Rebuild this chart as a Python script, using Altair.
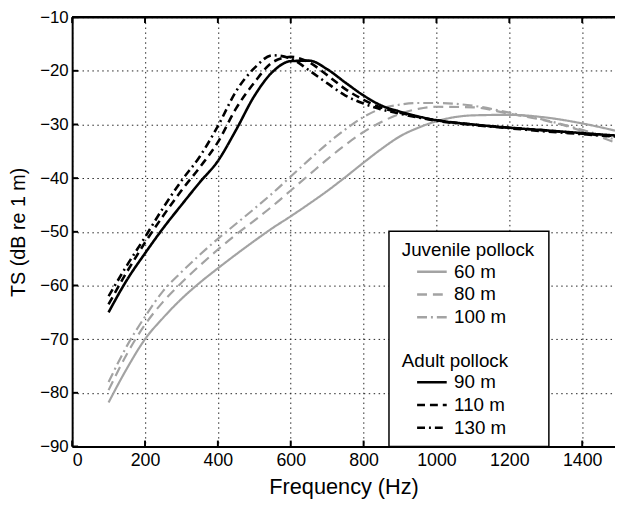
import altair as alt
import pandas as pd

# ---- data ----
FREQ = [100, 150, 200, 250, 300, 350, 400, 450, 500, 550, 600, 650, 700, 750,
        800, 850, 900, 950, 1000, 1100, 1200, 1300, 1400, 1500]

ADULT_90 = [-65.0, -59.0, -54.0, -49.3, -45.0, -40.8, -36.8, -31.0, -24.7, -20.2, -18.2, -18.1,
            -19.7, -22.2, -24.6, -26.5, -27.6, -28.5, -29.2, -30.0, -30.6, -31.1, -31.6, -32.1]
ADULT_110 = [-63.5, -57.5, -52.0, -47.0, -42.3, -38.0, -33.3, -27.0, -22.2, -18.4, -17.4, -18.4,
             -20.8, -23.4, -25.4, -26.9, -27.8, -28.6, -29.2, -30.0, -30.6, -31.1, -31.7, -32.2]
ADULT_130 = [-62.0, -56.3, -51.0, -45.5, -40.5, -36.0, -30.3, -23.8, -19.5, -17.1, -17.7, -19.9,
             -22.3, -24.6, -26.1, -27.2, -28.0, -28.7, -29.3, -30.1, -30.7, -31.3, -31.8, -32.3]
JUV_60 = [-81.8, -75.5, -70.0, -66.0, -62.5, -59.5, -56.8, -54.2, -51.7, -49.3, -47.1, -44.8,
          -42.4, -39.8, -37.1, -34.5, -32.2, -30.6, -29.4, -28.3, -28.2, -28.7, -29.8, -31.3]
JUV_80 = [-79.5, -72.8, -67.3, -63.0, -59.5, -56.3, -53.3, -50.5, -47.9, -45.2, -42.3, -39.4,
          -36.5, -33.8, -31.4, -29.5, -28.0, -27.1, -26.7, -26.8, -28.0, -29.3, -31.2, -33.6]
JUV_100 = [-78.0, -71.3, -65.8, -61.0, -57.5, -54.3, -51.3, -48.5, -45.7, -42.8, -39.7, -36.6,
           -33.6, -30.9, -28.6, -27.0, -26.3, -26.0, -26.0, -26.5, -27.8, -29.2, -31.0, -33.0]

JUV_LABELS = ["60 m", "80 m", "100 m"]
ADULT_LABELS = ["90 m", "110 m", "130 m"]
X_TICKS = [0, 200, 400, 600, 800, 1000, 1200, 1400]
Y_TICKS = [-90, -80, -70, -60, -50, -40, -30, -20, -10]

GRAY = "#a3a3a3"
FONT = "Liberation Sans"
W, H = 550, 435

def long(series, labels):
    rows = []
    for lab, vals in zip(labels, series):
        for f, v in zip(FREQ, vals):
            rows.append({"freq": f, "ts": v, "label": lab})
    return pd.DataFrame(rows)

juv = long([JUV_60, JUV_80, JUV_100], JUV_LABELS)
adult = long([ADULT_90, ADULT_110, ADULT_130], ADULT_LABELS)

xenc = alt.X("freq:Q", scale=alt.Scale(domain=[0, 1490], nice=False, zero=False),
             axis=alt.Axis(values=X_TICKS, format="d", title="Frequency (Hz)", titleY=48,
                           titleBaseline="alphabetic", titleFontSize=22,
                           labelFontSize=18, labelPadding=5))
yenc = alt.Y("ts:Q", scale=alt.Scale(domain=[-90, -10], nice=False, zero=False),
             axis=alt.Axis(values=Y_TICKS, format="d", title="TS (dB re 1 m)", titleX=-54,
                           titleY=H / 2, titleAngle=270, titleBaseline="middle",
                           titleAlign="center", titleFontSize=20, labelFontSize=17,
                           labelPadding=4))

def legend(title, y, color):
    return alt.Legend(title=title, orient="none", legendX=334, legendY=y,
                      symbolStrokeColor=color, symbolStrokeWidth=2.5, symbolSize=900,
                      symbolType="stroke", symbolOffset=14, labelOffset=6,
                      clipHeight=18, rowPadding=4, titlePadding=3, padding=0,
                      titleFont=FONT, titleFontSize=19, titleFontWeight="normal",
                      titleColor="black", labelFont=FONT, labelFontSize=19,
                      labelColor="black")

juv_lines = alt.Chart(juv).mark_line(clip=True, strokeWidth=2.2, color=GRAY,
                                     interpolate="monotone").encode(
    x=xenc, y=yenc,
    strokeDash=alt.StrokeDash("label:N",
                              scale=alt.Scale(domain=JUV_LABELS,
                                              range=[[1, 0], [10, 6], [10, 4, 2, 4]]),
                              legend=legend("Juvenile pollock", 227, GRAY)),
)

adult_lines = alt.Chart(adult).mark_line(clip=True, strokeWidth=2.6, color="black",
                                         interpolate="monotone").encode(
    x="freq:Q", y="ts:Q",
    strokeDash=alt.StrokeDash("label:N",
                              scale=alt.Scale(domain=ADULT_LABELS,
                                              range=[[1, 0], [8, 5], [8, 4, 2, 4]]),
                              legend=legend("Adult pollock", 339, "black")),
)

xt = pd.DataFrame({"v": X_TICKS})
yt = pd.DataFrame({"v": Y_TICKS})
one = pd.DataFrame({"a": [0]})

xticks_bottom = alt.Chart(xt).mark_rule(color="black", strokeWidth=2).encode(
    x="v:Q", y=alt.value(H), y2=alt.value(H - 6))
xticks_top = alt.Chart(xt).mark_rule(color="black", strokeWidth=2).encode(
    x="v:Q", y=alt.value(0), y2=alt.value(6))
yticks = alt.Chart(yt).mark_rule(color="black", strokeWidth=2).encode(
    y="v:Q", x=alt.value(0), x2=alt.value(6))

legend_box = alt.Chart(one).mark_rect(fill="white", stroke="black", strokeWidth=1.5).encode(
    x=alt.value(321), x2=alt.value(483), y=alt.value(217), y2=alt.value(H))

top_frame = alt.Chart(one).mark_rule(color="black", strokeWidth=2.5).encode(
    x=alt.value(0), x2=alt.value(W), y=alt.value(0))

chart = alt.layer(
    xticks_bottom, xticks_top, yticks, juv_lines, adult_lines, legend_box, top_frame
).resolve_scale(
    strokeDash="independent"
).properties(
    width=W, height=H,
    autosize=alt.AutoSizeParams(type="none"),
    padding={"left": 65, "top": 6, "right": 0, "bottom": 56},
).configure_view(
    stroke=None
).configure_axis(
    grid=True, gridDash=[1.5, 3.5], gridColor="#222222", gridWidth=1, gridOpacity=1,
    domainColor="black", domainWidth=2, ticks=False,
    labelFont=FONT, labelColor="black",
    titleFont=FONT, titleFontWeight="normal", titleColor="black",
)

chart.save("out.html", embed_options={"renderer": "svg", "actions": False})
